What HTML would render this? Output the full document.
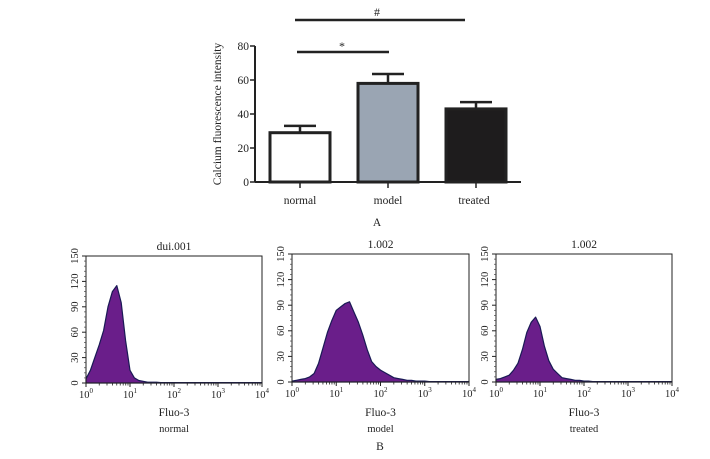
<!DOCTYPE html>
<html><head><meta charset="utf-8"><style>
body{margin:0;background:#fff;}
svg text{font-family:"Liberation Serif",serif;fill:#222;}
</style></head><body>
<svg id="fig" width="710" height="454" viewBox="0 0 710 454">
<g id="barchart"></g>
<g id="hists"></g>
</svg>
<script>
const NS="http://www.w3.org/2000/svg";
const barCategories=["normal","model","treated"];
const barValues=[29,58,43];
const barErrors=[4,5.5,4];
const barFills=["#ffffff","#9aa5b3","#1e1c1d"];
const barTicks=[0,20,40,60,80];
const histTitles=["dui.001","1.002","1.002"];
const histNames=["normal","model","treated"];
const histYTicks=[0,30,60,90,120,150];
const histXTicks=["0","1","2","3","4"];
const histNormal=[5,15,30,45,62,90,108,115,95,50,15,6,3,2,1,1,1,0.5,0.5,0.5,0.5,0.5,0.5,0.5,0.5,0.5,0.5,0.5,0.5,0.5,0.5,0.5,0.5,0.5,0.5,0.5,0.5,0.5,0.5,0.5,0.5];
const histModel=[1,2,3,4,6,10,22,40,58,72,84,88,92,94,82,70,55,38,24,18,14,11,8,5,4,3,2,2,1,1,1,0.5,0.5,0.5,0.5,0.5,0.5,0.5,0.5,0.5,0.5];
const histTreated=[3,4,6,8,14,22,38,58,70,76,65,42,25,15,10,5,4,3,2,2,1,1,0.5,0.5,0.5,0.5,0.5,0.5,0.5,0.5,0.5,0.5,0.5,0.5,0.5,0.5,0.5,0.5,0.5,0.5,0.5];
const histSeries=[histNormal,histModel,histTreated];

function el(tag,attrs,parent,text){const e=document.createElementNS(NS,tag);for(const k in attrs)e.setAttribute(k,attrs[k]);if(text!==undefined)e.textContent=text;parent.appendChild(e);return e;}

// Bar chart
const bc=document.getElementById("barchart");
const by=v=>182-v*1.7;
const bx=i=>300+i*88;
const bw=60;
let ax=el("line",{x1:255,y1:182,x2:521,y2:182,stroke:"#222","stroke-width":2},bc);


ax=el("line",{x1:255,y1:by(80),x2:255,y2:182,stroke:"#222","stroke-width":2},bc);


barTicks.forEach(t=>{
  el("line",{x1:250,y1:by(t),x2:255,y2:by(t),stroke:"#222","stroke-width":1.5},bc);
  const tx=el("text",{x:249,y:by(t)+4,"text-anchor":"end","font-size":11.5},bc,t);
  
  
});
barCategories.forEach((c,i)=>{
  const cx=bx(i);
  const top=by(barValues[i]+barErrors[i]);
  el("line",{x1:cx,y1:top,x2:cx,y2:by(barValues[i]),stroke:"#222","stroke-width":2.5},bc);
  el("line",{x1:cx-16,y1:top,x2:cx+16,y2:top,stroke:"#222","stroke-width":2.5},bc);
  const r=el("rect",{x:cx-bw/2,y:by(barValues[i]),width:bw,height:182-by(barValues[i]),fill:barFills[i],stroke:"#222","stroke-width":3},bc);
  
  
  el("line",{x1:cx,y1:182,x2:cx,y2:188,stroke:"#222","stroke-width":1.5},bc);
  const l=el("text",{x:cx+ (i==2?-2:0),y:204,"text-anchor":"middle","font-size":11.5},bc,c);
  
  
});
let yt=el("text",{x:0,y:0,transform:"translate(221,114) rotate(-90)","text-anchor":"middle","font-size":11.5},bc,"Calcium fluorescence intensity");


el("line",{x1:295,y1:20,x2:465,y2:20,stroke:"#222","stroke-width":2.5},bc);
el("text",{x:377,y:16,"text-anchor":"middle","font-size":12},bc,"#");
el("line",{x1:297,y1:52,x2:389,y2:52,stroke:"#222","stroke-width":2.5},bc);
el("text",{x:342,y:50,"text-anchor":"middle","font-size":12},bc,"*");
let A=el("text",{x:377,y:226,"text-anchor":"middle","font-size":11.5},bc,"A");



// Histograms
const hg=document.getElementById("hists");
const panels=[{l:86,r:262,t:256,b:383},{l:292,r:469,t:254,b:382},{l:496,r:672,t:254,b:382}];
panels.forEach((p,k)=>{
  const g=el("g",{},hg);
  
  
  const sx=v=>p.l+(p.r-p.l)*v/4;
  const sy=v=>p.b-(p.b-p.t)*v/150;
  const data=histSeries[k];
  let d="M"+sx(0)+","+sy(0);
  data.forEach((v,i)=>{d+=" L"+sx(i*0.1).toFixed(1)+","+sy(v).toFixed(1);});
  d+=" L"+sx(4)+","+sy(0)+" Z";
  const path=el("path",{d:d,fill:"#6a1e8a",stroke:"#1a1a55","stroke-width":1.2,"stroke-linejoin":"round"},g);
  
  
  el("rect",{x:p.l,y:p.t,width:p.r-p.l,height:p.b-p.t,fill:"none",stroke:"#222","stroke-width":1},g);
  histYTicks.forEach((t,i)=>{
    el("line",{x1:p.l-4,y1:sy(t),x2:p.l,y2:sy(t),stroke:"#222"},g);
    if(i<histYTicks.length-1) for(let m=1;m<5;m++){const yy=sy(t+m*6);el("line",{x1:p.l-2,y1:yy,x2:p.l,y2:yy,stroke:"#444","stroke-width":0.7},g);}
    const tx=el("text",{transform:`translate(${p.l-8},${sy(t)}) rotate(-90)`,"text-anchor":"middle","font-size":10.5},g,t);
    
    
  });
  histXTicks.forEach((e,i)=>{
    el("line",{x1:sx(i),y1:p.b,x2:sx(i),y2:p.b+4,stroke:"#222"},g);
    if(i<4) for(let m=2;m<10;m++){const xx=sx(i+Math.log10(m));el("line",{x1:xx,y1:p.b,x2:xx,y2:p.b+2.5,stroke:"#222","stroke-width":0.8},g);}
    const tx=el("text",{x:sx(i),y:p.b+15,"text-anchor":"middle","font-size":10.5},g);
    
    
    el("tspan",{},tx,"10");
    el("tspan",{dy:-5,"font-size":7},tx,e);
  });
  const cx=(p.l+p.r)/2;
  let t=el("text",{x:cx,y:p.t-6,"text-anchor":"middle","font-size":11.5},g,histTitles[k]);
  
  
  t=el("text",{x:cx,y:416,"text-anchor":"middle","font-size":11.5},g,"Fluo-3");
  
  
  t=el("text",{x:cx,y:432,"text-anchor":"middle","font-size":10.5},g,histNames[k]);
  
  
});
let B=el("text",{x:380,y:450,"text-anchor":"middle","font-size":11.5},hg,"B");


</script>
</body></html>
